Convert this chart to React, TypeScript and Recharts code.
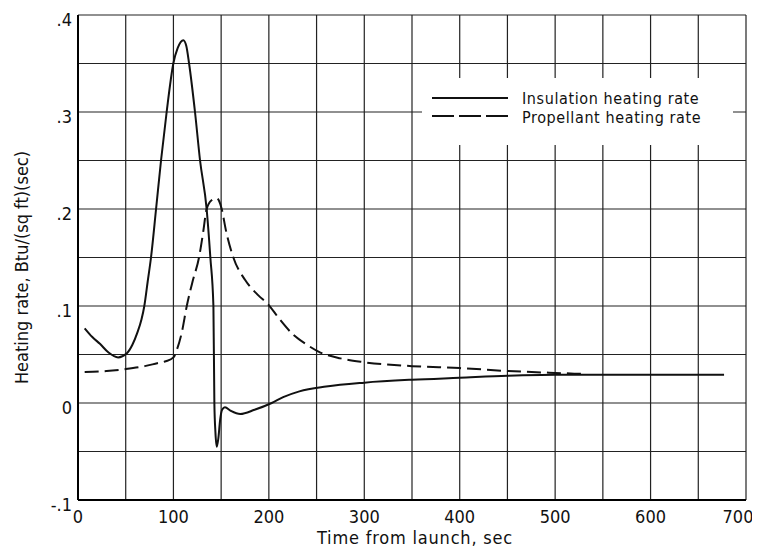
import { LineChart, Line, XAxis, YAxis, CartesianGrid, Label } from "recharts";

// time (sec) / heating rate Btu/(sq ft)(sec)
const insulationTime = [7, 15, 23, 32, 42, 51, 57, 62, 66.5, 69.5, 73, 76.5, 81.8, 87, 92.9, 99.9, 104.5, 110.4, 113.5, 116.4, 122.6, 127.9, 134.8, 138.7, 141.9, 142.9, 144, 145.4, 147, 149, 151, 154, 160, 170, 185, 203, 215, 232, 260, 300, 350, 400, 450, 500, 600, 677];
const insulationRate = [0.077, 0.068, 0.061, 0.052, 0.047, 0.051, 0.06, 0.072, 0.086, 0.1, 0.125, 0.15, 0.2, 0.25, 0.3, 0.35, 0.366, 0.374, 0.368, 0.35, 0.3, 0.25, 0.2, 0.15, 0.1, 0, -0.03, -0.045, -0.037, -0.017, -0.007, -0.0045, -0.008, -0.0113, -0.007, 0, 0.006, 0.012, 0.017, 0.021, 0.024, 0.026, 0.028, 0.029, 0.029, 0.029];

const propellantTime = [7, 30, 50, 70, 83, 92, 100, 104, 108.6, 114, 120, 126.8, 131, 134.8, 140, 145.3, 148, 150.6, 155, 162.8, 175, 189, 199, 210, 226, 240, 252, 275, 300, 350, 400, 450, 500, 528];
const propellantRate = [0.032, 0.033, 0.035, 0.038, 0.041, 0.043, 0.047, 0.056, 0.072, 0.1, 0.125, 0.15, 0.175, 0.2, 0.209, 0.211, 0.208, 0.2, 0.178, 0.15, 0.127, 0.111, 0.102, 0.088, 0.07, 0.06, 0.053, 0.046, 0.042, 0.038, 0.036, 0.033, 0.031, 0.03];

const xTicks = [0, 50, 100, 150, 200, 250, 300, 350, 400, 450, 500, 550, 600, 650, 700];
const yTicks = [-0.1, -0.05, 0, 0.05, 0.1, 0.15, 0.2, 0.25, 0.3, 0.35, 0.4];

const insulationData = insulationTime.map((t, i) => ({ t, v: insulationRate[i] }));
const propellantData = propellantTime.map((t, i) => ({ t, v: propellantRate[i] }));

const font = '"Liberation Sans Narrow", "DejaVu Sans Condensed", "Liberation Sans", sans-serif';

const fmtX = (v: number) => (v % 100 === 0 ? String(v) : "");
const fmtY = (v: number) => {
  const k = Math.round(v * 100);
  if (k % 10 !== 0) return "";
  if (k === 0) return "0";
  return (k < 0 ? "-" : "") + "." + Math.abs(k / 10);
};

const XTick = (p: any) => {
  const v = p.payload.value;
  return (
    <text x={p.x + (v === 700 ? -8 : 0)} y={p.y + 23} textAnchor="middle" fill="#111" fontSize={18}>
      {fmtX(v)}
    </text>
  );
};

const YTick = (p: any) => (
  <text x={p.x} y={p.y + 11} textAnchor="end" fill="#111" fontSize={18}>
    {fmtY(p.payload.value)}
  </text>
);

export default function App() {
  return (
    <div style={{ position: "relative", width: 752, height: 542, fontFamily: font, background: "white" }}>
      <LineChart width={752} height={542} margin={{ top: 7, right: 14, bottom: 20, left: 30 }}>
        <CartesianGrid stroke="#222" strokeWidth={1.2} />
        <XAxis
          type="number"
          dataKey="t"
          domain={[0, 700]}
          ticks={xTicks}
          interval={0}
          tickLine={false}
          tickSize={0}
          tickMargin={0}
          height={30}
          axisLine={{ stroke: "#000", strokeWidth: 2 }}
          tick={<XTick />}
        >
          <Label
            content={(p: any) => (
              <text x={p.viewBox.x + p.viewBox.width / 2 + 3} y={p.viewBox.y + 44} textAnchor="middle" fill="#111" fontSize={18} letterSpacing={0.8}>
                Time from launch,  sec
              </text>
            )}
          />
        </XAxis>
        <YAxis
          type="number"
          dataKey="v"
          domain={[-0.1, 0.4]}
          ticks={yTicks}
          interval={0}
          tickLine={false}
          tickSize={0}
          tickMargin={6}
          width={40}
          axisLine={{ stroke: "#000", strokeWidth: 2 }}
          tick={<YTick />}
        >
          <Label
            content={(p: any) => {
              const x = 20;
              const y = p.viewBox.y + p.viewBox.height / 2 + 10;
              return (
                <text x={x} y={y} transform={`rotate(-90, ${x}, ${y})`} textAnchor="middle" fill="#111" fontSize={18}>
                  Heating rate,  Btu/(sq ft)(sec)
                </text>
              );
            }}
          />
        </YAxis>
        <Line
          data={insulationData}
          dataKey="v"
          type="monotone"
          stroke="#111"
          strokeWidth={2}
          dot={false}
          activeDot={false}
          isAnimationActive={false}
        />
        <Line
          data={propellantData}
          dataKey="v"
          type="monotone"
          stroke="#111"
          strokeWidth={2}
          strokeDasharray="14 6"
          dot={false}
          activeDot={false}
          isAnimationActive={false}
        />
      </LineChart>
      <div style={legendBox}>
        <svg width={90} height={50} style={{ position: "absolute", left: 0, top: 0 }}>
          <line x1={10} x2={86} y1={20} y2={20} stroke="#111" strokeWidth={2} />
          <line x1={10} x2={86} y1={38} y2={38} stroke="#111" strokeWidth={2} strokeDasharray="22 5" />
        </svg>
        <div style={{ ...legendText, top: 13 }}>Insulation heating rate</div>
        <div style={{ ...legendText, top: 32 }}>Propellant heating rate</div>
      </div>
    </div>
  );
}

const legendBox: React.CSSProperties = {
  position: "absolute",
  left: 414,
  top: 70,
  width: 311,
  height: 67,
  background: "white",
};

const legendText: React.CSSProperties = {
  position: "absolute",
  left: 100,
  fontSize: 16,
  lineHeight: "16px",
  letterSpacing: 0.6,
  color: "#111",
  whiteSpace: "nowrap",
};
